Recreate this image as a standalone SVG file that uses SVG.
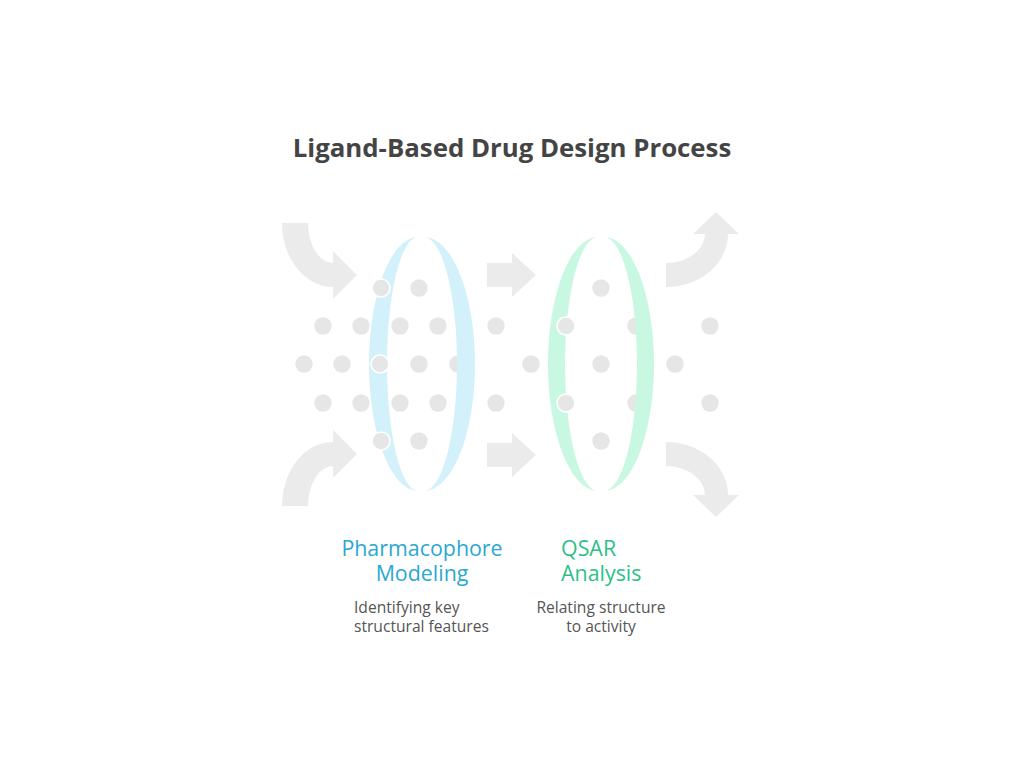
<svg xmlns="http://www.w3.org/2000/svg" width="1024" height="768" viewBox="0 0 1024 768">
<defs>
<style>
.arrow{fill:#ebebeb}
.dot{fill:#e6e6e6}
.dotw{fill:#e6e6e6;stroke:#ffffff;stroke-width:1.6}
.title{font-family:"Open Sans","Noto Sans",sans-serif;font-weight:bold;font-size:25.8px;fill:#444444}
.lab{font-family:"Open Sans","Noto Sans",sans-serif;font-size:21.4px}
.desc{font-family:"Open Sans","Noto Sans",sans-serif;font-size:15.6px;fill:#555555}
</style>
</defs>
<rect width="1024" height="768" fill="#ffffff"/>
<text class="title" x="512" y="157" text-anchor="middle">Ligand-Based Drug Design Process</text>

<g id="connectors">
<path class="arrow" d="M282,223 L308,223 A25,40 0 0 0 333,263 L333,251 L357,275 L333,299 L333,287 A51,64 0 0 1 282,223 Z"/>
<path class="arrow" d="M282,506 L308,506 A25,40 0 0 1 333,466 L333,478 L357,454 L333,430 L333,442 A51,64 0 0 0 282,506 Z"/>
<path class="arrow" d="M487,263 L512,263 L512,253 L536,275 L512,297 L512,287 L487,287 Z"/>
<path class="arrow" d="M487,443 L512,443 L512,433 L536,455 L512,477 L512,467 L487,467 Z"/>
<path class="arrow" d="M666,263 A39,29 0 0 0 705,234 L693,234 L716,212 L739,234 L728,234 A62,53 0 0 1 666,287 Z"/>
<path class="arrow" d="M666,466 A39,29 0 0 1 705,495 L693,495 L716,517 L739,495 L728,495 A62,53 0 0 0 666,442 Z"/>
</g>

<g id="dots">
<circle class="dot" cx="419" cy="288" r="8.7"/>
<circle class="dot" cx="323" cy="326" r="8.7"/>
<circle class="dot" cx="361" cy="326" r="8.7"/>
<circle class="dot" cx="400" cy="326" r="8.7"/>
<circle class="dot" cx="438" cy="326" r="8.7"/>
<circle class="dot" cx="496" cy="326" r="8.7"/>
<circle class="dot" cx="304" cy="364" r="8.7"/>
<circle class="dot" cx="342" cy="364" r="8.7"/>
<circle class="dot" cx="419" cy="364" r="8.7"/>
<circle class="dot" cx="458" cy="364" r="8.7"/>
<circle class="dot" cx="323" cy="403" r="8.7"/>
<circle class="dot" cx="361" cy="403" r="8.7"/>
<circle class="dot" cx="400" cy="403" r="8.7"/>
<circle class="dot" cx="438" cy="403" r="8.7"/>
<circle class="dot" cx="496" cy="403" r="8.7"/>
<circle class="dot" cx="419" cy="441" r="8.7"/>
<circle class="dot" cx="601" cy="288" r="8.7"/>
<circle class="dot" cx="636" cy="326" r="8.7"/>
<circle class="dot" cx="710" cy="326" r="8.7"/>
<circle class="dot" cx="531" cy="364" r="8.7"/>
<circle class="dot" cx="601" cy="364" r="8.7"/>
<circle class="dot" cx="675" cy="364" r="8.7"/>
<circle class="dot" cx="636" cy="403" r="8.7"/>
<circle class="dot" cx="710" cy="403" r="8.7"/>
<circle class="dot" cx="601" cy="441" r="8.7"/>
</g>

<g id="pharmacophore">
<path fill="#d2f1fb" d="M418,237 A49,127 0 0 0 418,491 A31,127 0 0 1 418,237 Z"/>
<path fill="#d2f1fb" d="M424,237 A51,127 0 0 1 424,491 A33,127 0 0 0 424,237 Z"/>
<circle class="dotw" cx="381" cy="288" r="9"/>
<circle class="dotw" cx="380" cy="364" r="9"/>
<circle class="dotw" cx="381" cy="441" r="9"/>
<text class="lab" x="422" y="556" text-anchor="middle" fill="#2aa8d2">Pharmacophore</text>
<text class="lab" x="422" y="581" text-anchor="middle" fill="#2aa8d2">Modeling</text>
<text class="desc" x="354" y="613">Identifying key</text>
<text class="desc" x="354" y="632">structural features</text>
</g>

<g id="qsar">
<path fill="#c8f8e2" d="M598,237 A50,127 0 0 0 598,491 A33,127 0 0 1 598,237 Z"/>
<path fill="#c8f8e2" d="M604,237 A50,127 0 0 1 604,491 A33,127 0 0 0 604,237 Z"/>
<circle class="dotw" cx="566" cy="326" r="9"/>
<circle class="dotw" cx="566" cy="403" r="9"/>
<text class="lab" x="561" y="556" fill="#2ebf88">QSAR</text>
<text class="lab" x="561" y="581" fill="#2ebf88">Analysis</text>
<text class="desc" x="601" y="613" text-anchor="middle">Relating structure</text>
<text class="desc" x="601" y="632" text-anchor="middle">to activity</text>
</g>
</svg>
